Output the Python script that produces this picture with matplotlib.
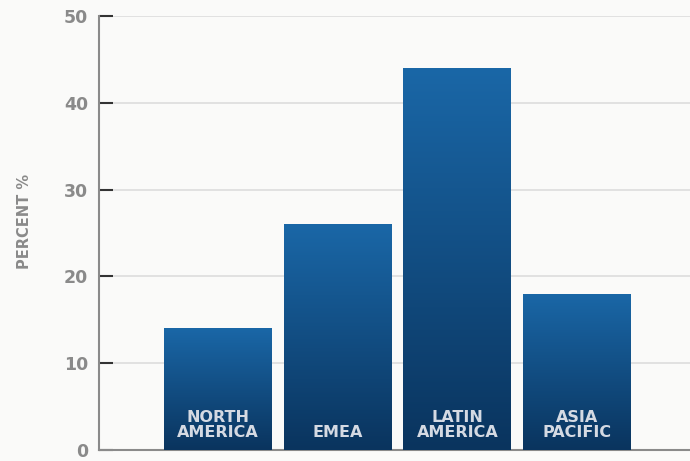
import numpy as np
import matplotlib.pyplot as plt
from matplotlib.colors import LinearSegmentedColormap

regions = ['NORTH\nAMERICA', 'EMEA', 'LATIN\nAMERICA', 'ASIA\nPACIFIC']
percent = [14, 26, 44, 18]
yticks = [0, 10, 20, 30, 40, 50]

fig = plt.figure(figsize=(6.9, 4.61), dpi=100, facecolor='#fafaf9')
ax = fig.add_axes([0.1435, 0.0239, 0.8565, 0.9415])
ax.set_facecolor('#fafaf9')

x = np.arange(len(regions))
bars = ax.bar(x, percent, width=0.9, color='none', zorder=3)

# vertical blue gradient inside each bar
cmap = LinearSegmentedColormap.from_list('blues', ['#0a345e', '#1a67a7'])
grad = np.linspace(0, 1, 256).reshape(-1, 1)
for b in bars:
    x0, w, h = b.get_x(), b.get_width(), b.get_height()
    im = ax.imshow(grad, cmap=cmap, origin='lower', aspect='auto',
                   extent=[x0, x0 + w, 0, h], zorder=3)
    im.set_clip_path(b)

for xi, name in zip(x, regions):
    ax.text(xi, 1.1, name, ha='center', va='bottom', color='#d5dae3',
            fontsize=11.5, fontweight='bold', linespacing=1.0, zorder=4)

ax.set_xlim(-0.99, 3.94)
ax.set_ylim(0, 50)
ax.set_yticks(yticks)
ax.set_xticks([])
ax.yaxis.grid(True, color='#dddddd', linewidth=1.2, zorder=0)
ax.tick_params(axis='y', direction='in', length=10, width=1.5, color='#333333',
               labelcolor='#8a8a8a', labelsize=12.5, pad=8)
for lbl in ax.get_yticklabels():
    lbl.set_fontweight('bold')
# the lowest two ticks are drawn lighter
for t in ax.yaxis.get_major_ticks()[:2]:
    t.tick1line.set_color('#9a9a9a')

for s in ['top', 'right']:
    ax.spines[s].set_visible(False)
ax.spines['left'].set_color('#8a8a8a')
ax.spines['left'].set_linewidth(1.5)
ax.spines['bottom'].set_color('#8a8a8a')
ax.spines['bottom'].set_linewidth(1.5)

fig.text(0.036, 0.52, 'PERCENT %', rotation=90, ha='center', va='center',
         color='#8a8a8a', fontsize=10.5, fontweight='bold')

fig.savefig('out.png', dpi=100, facecolor=fig.get_facecolor())
